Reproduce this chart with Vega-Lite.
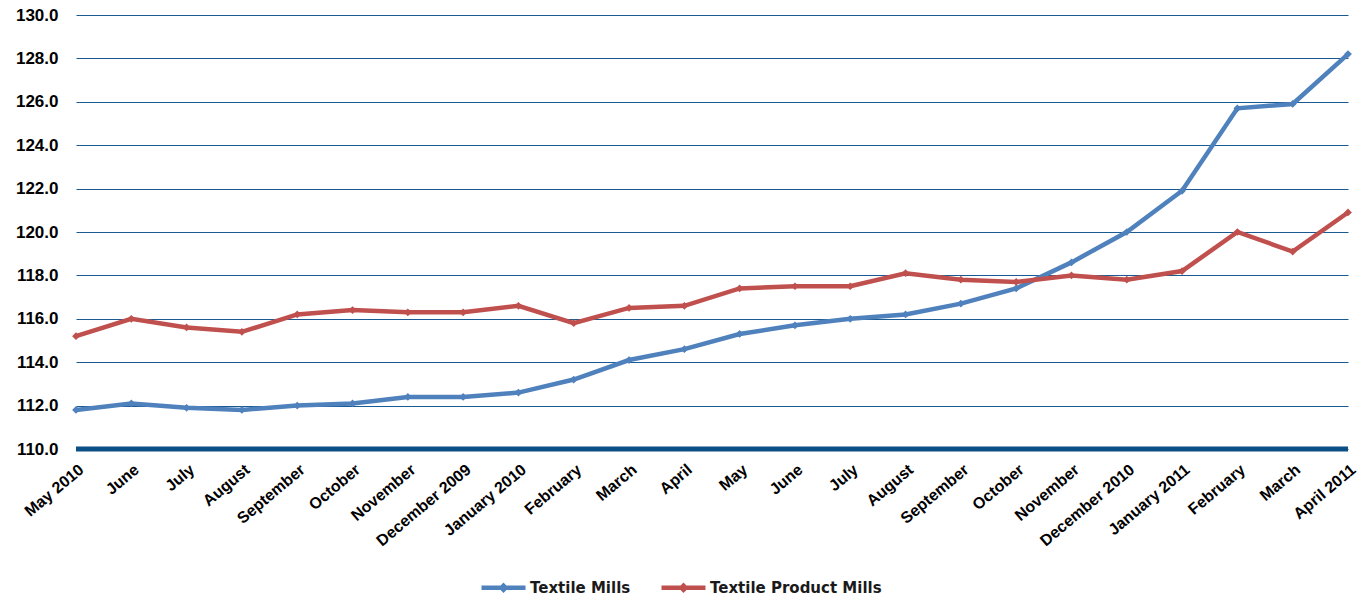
{
  "$schema": "https://vega.github.io/schema/vega-lite/v6.json",
  "width": 1272,
  "height": 434,
  "autosize": "none",
  "padding": {"left": 76, "top": 15, "right": 10, "bottom": 147},
  "background": "white",
  "config": {"view": {"stroke": null}, "font": "Liberation Sans"},
  "data": {"values": [
    {"key": "01|May 2010", "Textile Mills": 111.8, "Textile Product Mills": 115.2},
    {"key": "02|June", "Textile Mills": 112.1, "Textile Product Mills": 116.0},
    {"key": "03|July", "Textile Mills": 111.9, "Textile Product Mills": 115.6},
    {"key": "04|August", "Textile Mills": 111.8, "Textile Product Mills": 115.4},
    {"key": "05|September", "Textile Mills": 112.0, "Textile Product Mills": 116.2},
    {"key": "06|October", "Textile Mills": 112.1, "Textile Product Mills": 116.4},
    {"key": "07|November", "Textile Mills": 112.4, "Textile Product Mills": 116.3},
    {"key": "08|December 2009", "Textile Mills": 112.4, "Textile Product Mills": 116.3},
    {"key": "09|January 2010", "Textile Mills": 112.6, "Textile Product Mills": 116.6},
    {"key": "10|February", "Textile Mills": 113.2, "Textile Product Mills": 115.8},
    {"key": "11|March", "Textile Mills": 114.1, "Textile Product Mills": 116.5},
    {"key": "12|April", "Textile Mills": 114.6, "Textile Product Mills": 116.6},
    {"key": "13|May", "Textile Mills": 115.3, "Textile Product Mills": 117.4},
    {"key": "14|June", "Textile Mills": 115.7, "Textile Product Mills": 117.5},
    {"key": "15|July", "Textile Mills": 116.0, "Textile Product Mills": 117.5},
    {"key": "16|August", "Textile Mills": 116.2, "Textile Product Mills": 118.1},
    {"key": "17|September", "Textile Mills": 116.7, "Textile Product Mills": 117.8},
    {"key": "18|October", "Textile Mills": 117.4, "Textile Product Mills": 117.7},
    {"key": "19|November", "Textile Mills": 118.6, "Textile Product Mills": 118.0},
    {"key": "20|December 2010", "Textile Mills": 120.0, "Textile Product Mills": 117.8},
    {"key": "21|January 2011", "Textile Mills": 121.9, "Textile Product Mills": 118.2},
    {"key": "22|February", "Textile Mills": 125.7, "Textile Product Mills": 120.0},
    {"key": "23|March", "Textile Mills": 125.9, "Textile Product Mills": 119.1},
    {"key": "24|April 2011", "Textile Mills": 128.2, "Textile Product Mills": 120.9}
  ]},
  "transform": [{"fold": ["Textile Mills", "Textile Product Mills"], "as": ["series", "value"]}],
  "layer": [
    {
      "data": {"values": [{"base": 110}]},
      "mark": {"type": "rule", "color": "#0b4f85", "strokeWidth": 5},
      "encoding": {"y": {"field": "base", "type": "quantitative"}}
    },
    {
      "mark": {"type": "line", "strokeWidth": 4.5, "point": {"filled": true, "shape": "diamond", "size": 60}},
      "encoding": {
        "x": {
          "field": "key", "type": "ordinal", "sort": null,
          "scale": {"type": "point", "padding": 0},
          "axis": {
            "title": null, "domain": false, "ticks": false, "grid": false,
            "labelAngle": -40, "labelPadding": 12, "labelAlign": "right", "labelBaseline": "top",
            "labelExpr": "split(datum.value, '|')[1]",
            "labelFont": "Liberation Sans", "labelFontWeight": "bold", "labelFontSize": 16,
            "labelColor": "#000000", "labelOverlap": false, "labelBound": false
          }
        },
        "y": {
          "field": "value", "type": "quantitative",
          "scale": {"domain": [110, 130], "nice": false, "zero": false},
          "axis": {
            "title": null, "domain": false, "ticks": false,
            "values": [110, 112, 114, 116, 118, 120, 122, 124, 126, 128, 130],
            "format": ".1f", "labelPadding": 18,
            "labelFont": "Liberation Sans", "labelFontWeight": "bold", "labelFontSize": 17,
            "labelColor": "#000000",
            "grid": true, "gridColor": "#1a5a92", "gridWidth": 1
          }
        },
        "color": {
          "field": "series", "type": "nominal",
          "scale": {"domain": ["Textile Mills", "Textile Product Mills"], "range": ["#4f81bd", "#c0504d"]},
          "legend": {
            "title": null, "orient": "none", "legendX": 420, "legendY": 565,
            "direction": "horizontal",
            "symbolType": "M-3,-0.3L3,-0.3L3,0.3L-3,0.3Z M0,-0.7L0.7,0L0,0.7L-0.7,0Z",
            "symbolSize": 215, "symbolStrokeWidth": 0,
            "labelFont": "DejaVu Sans", "labelFontWeight": "bold", "labelFontSize": 15,
            "labelColor": "#1a1a1a", "labelOffset": 19, "columnPadding": 30, "labelLimit": 400,
            "encode": {"symbols": {"update": {"fill": {"scale": "color", "field": "value"}, "stroke": {"value": "transparent"}}}}
          }
        }
      }
    }
  ]
}
